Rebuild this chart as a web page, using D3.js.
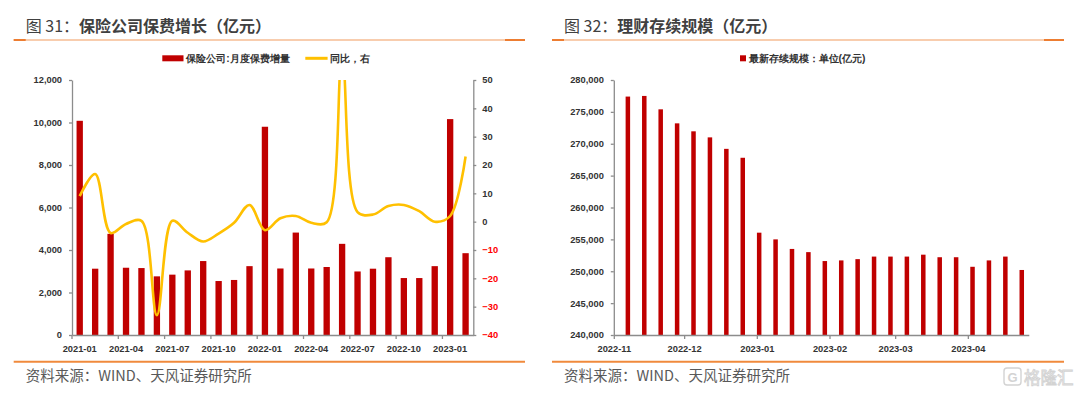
<!DOCTYPE html>
<html>
<head>
<meta charset="utf-8">
<script src="https://cdn.jsdelivr.net/npm/d3@7"></script>
<style>
  body { margin: 0; background: #fff; }
  svg text { font-family: "Liberation Sans", Arial, sans-serif; }
  .cjk { font-family: "Noto Sans CJK SC", "Noto Sans", sans-serif; }
</style>
</head>
<body>
<svg id="chart" width="1080" height="393"></svg>
<script>
// ---- left chart data: insurance premiums ----
const months = ["2021-01","2021-02","2021-03","2021-04","2021-05","2021-06","2021-07","2021-08","2021-09",
  "2021-10","2021-11","2021-12","2022-01","2022-02","2022-03","2022-04","2022-05","2022-06","2022-07",
  "2022-08","2022-09","2022-10","2022-11","2022-12","2023-01","2023-02"];
const premium = [10080,3120,4760,3165,3150,2760,2840,3040,3480,2540,2590,3240,9800,3130,4820,3130,3200,
  4290,2990,3120,3660,2680,2680,3240,10160,3850];
const premiumYoy = [9,16.8,-4,-0.8,0.3,-33,0.3,-3.9,-7,-4.2,-0.4,5.9,-3,1.2,2,-0.4,-0.2,58,3.4,2.5,5.5,
  5.9,3.7,0,2,23];
const premiumTicks = [0,2000,4000,6000,8000,10000,12000];
const yoyTicks = [-40,-30,-20,-10,0,10,20,30,40,50];

// ---- right chart data: wealth management outstanding ----
const weeks = ["2022-11-07","2022-11-14","2022-11-21","2022-11-28","2022-12-05","2022-12-12","2022-12-19",
  "2022-12-26","2023-01-02","2023-01-09","2023-01-16","2023-01-23","2023-01-30","2023-02-06","2023-02-13",
  "2023-02-20","2023-02-27","2023-03-06","2023-03-13","2023-03-20","2023-03-27","2023-04-03","2023-04-10",
  "2023-04-17","2023-04-24"];
const wealth = [277400,277500,275400,273200,271950,271000,269200,267800,256050,255000,253500,253000,
  251600,251700,251900,252300,252300,252300,252600,252200,252200,250700,251700,252300,250200];
const wealthTicks = [240000,245000,250000,255000,260000,265000,270000,275000,280000];
const monthTicks = ["2022-11-01","2022-12-01","2023-01-01","2023-02-01","2023-03-01","2023-04-01"];

const RED = "#c00000", GOLD = "#ffc000", AXIS = "#8c8c8c", LABEL = "#333";
const parseDay = d3.timeParse("%Y-%m-%d");
const svg = d3.select("#chart");

// panel frame: title, orange rules, source
function frame(x0, x1, tx, num, title) {
  const t = svg.append("text").attr("class", "cjk").attr("x", tx).attr("y", 32)
    .attr("font-size", 16).attr("fill", "#404040");
  t.append("tspan").text(`图 ${num}：`);
  t.append("tspan").attr("font-weight", "bold").text(title);
  svg.append("line").attr("x1", x0).attr("x2", x1).attr("y1", 40).attr("y2", 40)
    .attr("stroke", "#f6bd93").attr("stroke-width", 1.3);
  svg.append("line").attr("x1", x0).attr("x2", x0 + 12).attr("y1", 40).attr("y2", 40)
    .attr("stroke", "#ed7d31").attr("stroke-width", 2);
  svg.append("line").attr("x1", x1 - 20).attr("x2", x1).attr("y1", 40).attr("y2", 40)
    .attr("stroke", "#ed7d31").attr("stroke-width", 2);
  svg.append("line").attr("x1", x0).attr("x2", x1).attr("y1", 361.7).attr("y2", 361.7)
    .attr("stroke", "#f08a3c").attr("stroke-width", 2);
  svg.append("text").attr("class", "cjk").attr("x", tx).attr("y", 381)
    .attr("font-size", 14.5).attr("fill", "#595959").text("资料来源：WIND、天风证券研究所");
}

function styleAxis(g) {
  g.select(".domain").attr("stroke", AXIS).attr("stroke-width", 1.3);
  g.selectAll(".tick line").attr("stroke", AXIS).attr("stroke-width", 1.3);
  g.selectAll(".tick text").attr("font-size", 9.3).attr("font-weight", "bold")
    .attr("fill", LABEL).attr("font-family", "Liberation Sans, Arial, sans-serif");
}

// ================= left chart =================
frame(13.7, 525, 25.7, 31, "保险公司保费增长（亿元）");

const L = { left: 72, right: 473.3, top: 80, bottom: 335 };
const xL = d3.scaleBand().domain(months).range([L.left, L.right]).paddingInner(0.59).paddingOuter(0.295);
const yL = d3.scaleLinear().domain([0, 12000]).range([L.bottom, L.top]);
const yR = d3.scaleLinear().domain([-40, 50]).range([L.bottom, L.top]);
const stepL = xL.step();

svg.append("g").selectAll("rect").data(premium).join("rect")
  .attr("x", (d, i) => xL(months[i]))
  .attr("y", d => yL(d))
  .attr("width", xL.bandwidth())
  .attr("height", d => yL(0) - yL(d))
  .attr("fill", RED);

svg.append("defs").append("clipPath").attr("id", "clipL").append("rect")
  .attr("x", L.left).attr("y", L.top).attr("width", L.right - L.left).attr("height", L.bottom - L.top + 20);

const yoyLine = d3.line()
  .x((d, i) => xL(months[i]) + xL.bandwidth() / 2)
  .y(d => yR(d))
  .curve(d3.curveCatmullRom.alpha(0.5));

svg.append("path").datum(premiumYoy)
  .attr("clip-path", "url(#clipL)")
  .attr("d", yoyLine)
  .attr("fill", "none").attr("stroke", GOLD).attr("stroke-width", 2.6);

const gxL = svg.append("g").attr("transform", `translate(0,${L.bottom})`)
  .call(d3.axisBottom(xL).tickValues(months.filter((d, i) => i % 3 === 0))
    .tickSizeInner(4).tickSizeOuter(0).tickPadding(6));
gxL.selectAll(".tick line").attr("x1", -stepL / 2).attr("x2", -stepL / 2);
styleAxis(gxL);

const gyL = svg.append("g").attr("transform", `translate(${L.left},0)`)
  .call(d3.axisLeft(yL).tickValues(premiumTicks).tickFormat(d3.format(","))
    .tickSizeInner(3).tickSizeOuter(0).tickPadding(7));
styleAxis(gyL);

const gyR = svg.append("g").attr("transform", `translate(${L.right},0)`)
  .call(d3.axisRight(yR).tickValues(yoyTicks).tickSizeInner(3).tickSizeOuter(0).tickPadding(6));
styleAxis(gyR);
gyR.selectAll(".tick text").attr("fill", d => d < 0 ? "#ff0000" : LABEL);

// legend
const legL = svg.append("g").attr("class", "cjk");
legL.append("rect").attr("x", 162.3).attr("y", 55.3).attr("width", 21.2).attr("height", 6).attr("fill", RED);
legL.append("text").attr("x", 186.3).attr("y", 62).attr("font-size", 10.2).attr("font-weight", "bold")
  .attr("fill", LABEL).text("保险公司:月度保费增量");
legL.append("line").attr("x1", 305.3).attr("x2", 327.6).attr("y1", 58.3).attr("y2", 58.3)
  .attr("stroke", GOLD).attr("stroke-width", 3);
legL.append("text").attr("x", 330).attr("y", 62).attr("font-size", 10.2).attr("font-weight", "bold")
  .attr("fill", LABEL).text("同比，右");

// ================= right chart =================
frame(552, 1064, 564, 32, "理财存续规模（亿元）");

const R = { left: 613.8, right: 1028.8, top: 80, bottom: 335 };
const xT = d3.scaleTime().domain([parseDay("2022-11-01"), parseDay("2023-04-27")]).range([R.left, R.right]);
const yW = d3.scaleLinear().domain([240000, 280000]).range([R.bottom, R.top]);
const barW = 4.5;

svg.append("g").selectAll("rect").data(wealth).join("rect")
  .attr("x", (d, i) => xT(parseDay(weeks[i])) - barW / 2)
  .attr("y", d => yW(d))
  .attr("width", barW)
  .attr("height", d => yW(240000) - yW(d))
  .attr("fill", RED);

const gxR = svg.append("g").attr("transform", `translate(0,${R.bottom})`)
  .call(d3.axisBottom(xT).tickValues(monthTicks.map(parseDay)).tickFormat(d3.timeFormat("%Y-%m"))
    .tickSizeInner(4).tickSizeOuter(0).tickPadding(6));
styleAxis(gxR);

const gyW = svg.append("g").attr("transform", `translate(${R.left},0)`)
  .call(d3.axisLeft(yW).tickValues(wealthTicks).tickFormat(d3.format(","))
    .tickSizeInner(3).tickSizeOuter(0).tickPadding(7));
styleAxis(gyW);

const legR = svg.append("g").attr("class", "cjk");
legR.append("rect").attr("x", 740).attr("y", 55.3).attr("width", 6).attr("height", 6).attr("fill", RED);
legR.append("text").attr("x", 748.6).attr("y", 62).attr("font-size", 10.3).attr("font-weight", "bold")
  .attr("fill", LABEL).text("最新存续规模：单位(亿元)");

// watermark
const wm = svg.append("g").attr("opacity", 0.55);
wm.append("rect").attr("x", 1004).attr("y", 368).attr("width", 17).attr("height", 17).attr("rx", 3)
  .attr("fill", "none").attr("stroke", "#b0b0b0").attr("stroke-width", 1.4);
wm.append("text").attr("x", 1012.5).attr("y", 381.5).attr("text-anchor", "middle").attr("font-size", 13)
  .attr("font-weight", "bold").attr("fill", "#b0b0b0").text("G");
wm.append("text").attr("class", "cjk").attr("x", 1024).attr("y", 384).attr("font-size", 16.5)
  .attr("fill", "#fff").attr("stroke", "#b0b0b0").attr("stroke-width", 0.9).text("格隆汇");
</script>
</body>
</html>
